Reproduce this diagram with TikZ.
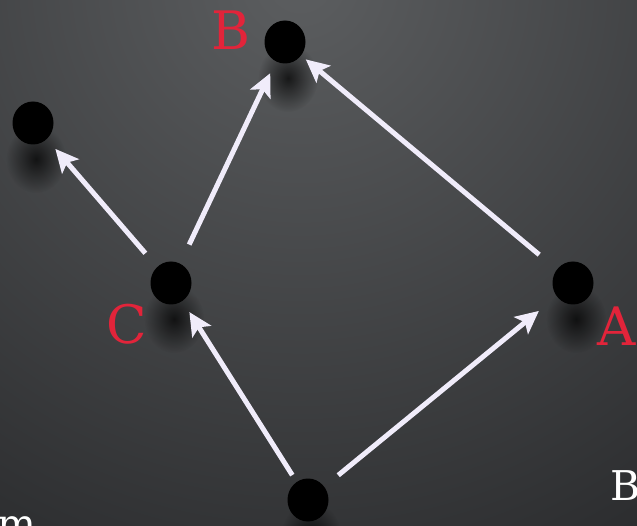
\documentclass[tikz,border=0pt]{standalone}
\usepackage{fontspec}
\setmainfont{DejaVu Serif}
\usetikzlibrary{arrows.meta,shapes.geometric,fadings}
\definecolor{bgin}{RGB}{92,94,96}
\definecolor{bgout}{RGB}{38,39,41}
\definecolor{arrowcol}{RGB}{240,236,250}
\definecolor{labelred}{RGB}{226,36,58}
\tikzfading[name=softfade, inner color=transparent!10, outer color=transparent!100]
\tikzset{
  dot/.style={ellipse, fill=black, draw=none, inner sep=0pt, minimum width=41pt, minimum height=43pt},
  dotshadow/.style={fill=black, path fading=softfade, fill opacity=0.8},
  edge/.style={draw=arrowcol, line width=5pt, -{Stealth[length=23pt,width=22pt,inset=5pt]}},
  redlabel/.style={text=labelred, font=\fontsize{53}{60}\selectfont, inner sep=0pt},
  whitetext/.style={text=white, font=\fontsize{41}{48}\selectfont, inner sep=0pt}
}
\begin{document}
\begin{tikzpicture}[x=1pt,y=-1pt]
\useasboundingbox (0,0) rectangle (637,526);
\clip (0,0) rectangle (637,526);
% background
\shade[inner color=bgin, outer color=bgout] (300,-20) circle (720pt);
% dot centres
\coordinate (pB) at (285,42);
\coordinate (pL) at (33,123);
\coordinate (pC) at (171,283);
\coordinate (pA) at (573,283);
\coordinate (pD) at (308,500);
% shadows
\foreach \p in {pB,pL,pC,pA,pD}
  \fill[dotshadow] ([shift={(3,36)}]\p) ellipse (30pt and 34pt);
% dots
\node[dot] (B) at (pB) {};
\node[dot] (L) at (pL) {};
\node[dot] (C) at (pC) {};
\node[dot] (A) at (pA) {};
\node[dot] (D) at (pD) {};
% arrows
\draw[edge, shorten <=8pt, shorten >=13pt] (D) -- (C);
\draw[edge, shorten <=18pt, shorten >=23pt] (D) -- (A);
\draw[edge, shorten <=18pt, shorten >=13pt] (C) -- (L);
\draw[edge, shorten <=21pt, shorten >=13pt] (C) -- (B);
\draw[edge, shorten <=23pt, shorten >=6pt] (A) -- (B);
% labels
\node[redlabel] (labB) at (231,30) {B};
\node[redlabel] (labC) at (127,324) {C};
\node[redlabel, anchor=west] (labA) at (597,326) {A};
\node[whitetext, anchor=base west] (wB) at (610,500) {B};
\node[whitetext, anchor=base east] (wm) at (37,538) {m};
\end{tikzpicture}
\end{document}
